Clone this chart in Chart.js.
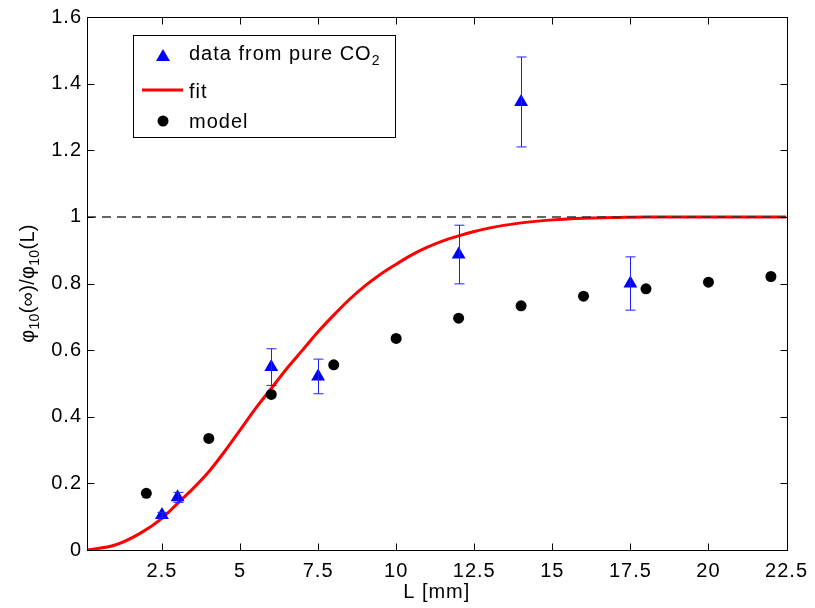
<!DOCTYPE html>
<html>
<head>
<meta charset="utf-8">
<script src="https://cdn.jsdelivr.net/npm/chart.js@4/dist/chart.umd.min.js"></script>
<style>
  body { margin: 0; background: #fff; }
  #wrap { width: 815px; height: 608px; position: relative; }
</style>
</head>
<body>
<div id="wrap"><canvas id="phiChart"></canvas></div>
<script>
// measured data, pure CO2
const dataL = [2.5, 3, 6, 7.5, 12, 14, 17.5];
const dataPhi = [0.105, 0.158, 0.549, 0.521, 0.887, 1.345, 0.800];
const dataErr = [0.008, 0.015, 0.055, 0.052, 0.088, 0.135, 0.080];

// model points
const modelL = [2, 4, 6, 8, 10, 12, 14, 16, 18, 20, 22];
const modelPhi = [0.170, 0.335, 0.467, 0.556, 0.635, 0.696, 0.733, 0.762, 0.784, 0.804, 0.821];

// fit curve
const fitL = [0.1, 1, 1.8, 2.5, 3, 3.5, 4, 4.5, 5, 5.5, 6, 6.5, 7, 7.5, 8, 8.5, 9, 9.5, 10, 10.5, 11, 11.5, 12, 12.5, 13, 14, 15, 16, 17, 18, 20, 22.5];
const fitPhi = [0, 0.015, 0.05, 0.095, 0.14, 0.185, 0.235, 0.295, 0.36, 0.425, 0.485, 0.545, 0.60, 0.655, 0.705, 0.752, 0.793, 0.828, 0.858, 0.886, 0.909, 0.928, 0.943, 0.956, 0.967, 0.982, 0.991, 0.996, 0.998, 1.0, 1.0, 1.0];

// reference line
const refL = [0.1, 22.5];
const refPhi = [1, 1];

const xTicks = [2.5, 5, 7.5, 10, 12.5, 15, 17.5, 20, 22.5];
const yTicks = [0, 0.2, 0.4, 0.6, 0.8, 1, 1.2, 1.4, 1.6];

const FONT = '"Liberation Sans", Arial, Helvetica, sans-serif';

function toPoints(xs, ys) {
    return xs.map((x, i) => ({ x: x, y: ys[i] }));
}

function drawSubText(ctx, parts, x, y) {
    // parts: [text, isSub]
    let cx = x;
    parts.forEach(([txt, sub]) => {
        ctx.font = (sub ? '14px ' : '20px ') + FONT;
        ctx.fillText(txt, cx, y + (sub ? 7 : 0));
        cx += ctx.measureText(txt).width;
    });
    return cx - x;
}

function partsWidth(ctx, parts) {
    let w = 0;
    parts.forEach(([txt, sub]) => {
        ctx.font = (sub ? '14px ' : '20px ') + FONT;
        w += ctx.measureText(txt).width;
    });
    return w;
}

// the reference font runs a bit wider than Liberation Sans
const wideText = {
    id: 'wideText',
    beforeDraw(chart) {
        chart.ctx.letterSpacing = '1px';
    }
};

const errorBars = {
    id: 'errorBars',
    afterDatasetsDraw(chart) {
        const { ctx, scales: { x, y } } = chart;
        ctx.save();
        ctx.strokeStyle = '#2020ff';
        ctx.lineWidth = 1;
        dataL.forEach((L, i) => {
            const px = Math.round(x.getPixelForValue(L)) + 0.5;
            const top = y.getPixelForValue(dataPhi[i] + dataErr[i]);
            const bot = y.getPixelForValue(dataPhi[i] - dataErr[i]);
            ctx.beginPath();
            ctx.moveTo(px, top);
            ctx.lineTo(px, bot);
            ctx.moveTo(px - 5, top);
            ctx.lineTo(px + 5, top);
            ctx.moveTo(px - 5, bot);
            ctx.lineTo(px + 5, bot);
            ctx.stroke();
        });
        ctx.restore();
    }
};

const axesBox = {
    id: 'axesBox',
    afterDraw(chart) {
        const { ctx, chartArea: a, scales: { x, y } } = chart;
        ctx.save();
        ctx.strokeStyle = '#000';
        ctx.lineWidth = 1;
        const l = Math.round(a.left) + 0.5, r = Math.round(a.right) + 0.5;
        const t = Math.round(a.top) + 0.5, b = Math.round(a.bottom) + 0.5;
        ctx.strokeRect(l, t, r - l, b - t);
        ctx.beginPath();
        xTicks.forEach(v => {
            const px = Math.round(x.getPixelForValue(v)) + 0.5;
            ctx.moveTo(px, b); ctx.lineTo(px, b - 7);
            ctx.moveTo(px, t); ctx.lineTo(px, t + 7);
        });
        yTicks.forEach(v => {
            const py = Math.round(y.getPixelForValue(v)) + 0.5;
            ctx.moveTo(l, py); ctx.lineTo(l + 7, py);
            ctx.moveTo(r, py); ctx.lineTo(r - 7, py);
        });
        ctx.stroke();

        // axis titles
        ctx.fillStyle = '#000';
        ctx.textBaseline = 'middle';
        ctx.letterSpacing = '1px';
        ctx.font = '20px ' + FONT;
        ctx.textAlign = 'center';
        ctx.fillText('L [mm]', (a.left + a.right) / 2, 592);

        ctx.textAlign = 'left';
        ctx.letterSpacing = '0.3px';
        const yParts = [['φ', false], ['10', true], ['(∞)/', false], ['φ', false], ['10', true], ['(L)', false]];
        ctx.save();
        ctx.translate(28, (a.top + a.bottom) / 2);
        ctx.rotate(-Math.PI / 2);
        const w = partsWidth(ctx, yParts);
        drawSubText(ctx, yParts, -w / 2, 0);
        ctx.restore();

        // legend
        ctx.fillStyle = '#fff';
        ctx.fillRect(133.5, 35.5, 262, 102);
        ctx.strokeRect(133.5, 35.5, 262, 102);

        ctx.fillStyle = '#0000ff';
        ctx.beginPath();
        ctx.moveTo(163, 49);
        ctx.lineTo(170, 61);
        ctx.lineTo(156, 61);
        ctx.closePath();
        ctx.fill();

        ctx.strokeStyle = '#ff0000';
        ctx.lineWidth = 3;
        ctx.beginPath();
        ctx.moveTo(142, 90);
        ctx.lineTo(183, 90);
        ctx.stroke();

        ctx.fillStyle = '#000';
        ctx.beginPath();
        ctx.arc(163, 121, 5.5, 0, Math.PI * 2);
        ctx.fill();

        ctx.letterSpacing = '1px';
        drawSubText(ctx, [['data from pure CO', false], ['2', true]], 189, 54);
        ctx.font = '20px ' + FONT;
        ctx.fillText('fit', 189, 92);
        ctx.fillText('model', 189, 122);
        ctx.restore();
    }
};

new Chart(document.getElementById('phiChart'), {
    type: 'scatter',
    data: {
        datasets: [
            {
                label: 'data from pure CO2',
                data: toPoints(dataL, dataPhi),
                pointStyle: 'triangle',
                pointRadius: 8,
                pointBackgroundColor: '#0000ff',
                pointBorderColor: '#0000ff',
                pointBorderWidth: 0,
                showLine: false,
                order: 0
            },
            {
                label: 'model',
                data: toPoints(modelL, modelPhi),
                pointStyle: 'circle',
                pointRadius: 5.5,
                pointBackgroundColor: '#000',
                pointBorderColor: '#000',
                pointBorderWidth: 0,
                showLine: false,
                order: 1
            },
            {
                label: 'ref',
                data: toPoints(refL, refPhi),
                showLine: true,
                borderColor: '#333',
                borderWidth: 1.5,
                borderDash: [9, 6],
                pointRadius: 0,
                order: 2
            },
            {
                label: 'fit',
                data: toPoints(fitL, fitPhi),
                showLine: true,
                borderColor: '#ff0000',
                borderWidth: 3,
                cubicInterpolationMode: 'monotone',
                pointRadius: 0,
                order: 3
            }
        ]
    },
    options: {
        responsive: true,
        maintainAspectRatio: false,
        animation: false,
        layout: { padding: { left: 0, right: 25, top: 11, bottom: 0 } },
        plugins: {
            legend: { display: false },
            tooltip: { enabled: false }
        },
        scales: {
            x: {
                type: 'linear',
                min: 0.1,
                max: 22.5,
                grid: { display: false, drawTicks: false },
                border: { display: false },
                afterBuildTicks: (scale) => { scale.ticks = xTicks.map(v => ({ value: v })); },
                afterFit: (scale) => { scale.height = 58; },
                ticks: {
                    color: '#000',
                    padding: 9,
                    maxRotation: 0,
                    autoSkip: false,
                    font: { family: FONT, size: 20 },
                    callback: (v) => String(v)
                }
            },
            y: {
                type: 'linear',
                min: 0,
                max: 1.6,
                grid: { display: false, drawTicks: false },
                border: { display: false },
                afterBuildTicks: (scale) => { scale.ticks = yTicks.map(v => ({ value: v })); },
                afterFit: (scale) => { scale.width = 87; },
                ticks: {
                    color: '#000',
                    padding: 5,
                    autoSkip: false,
                    font: { family: FONT, size: 20 },
                    callback: (v) => String(+v.toFixed(1))
                }
            }
        }
    },
    plugins: [wideText, errorBars, axesBox]
});
</script>
</body>
</html>
